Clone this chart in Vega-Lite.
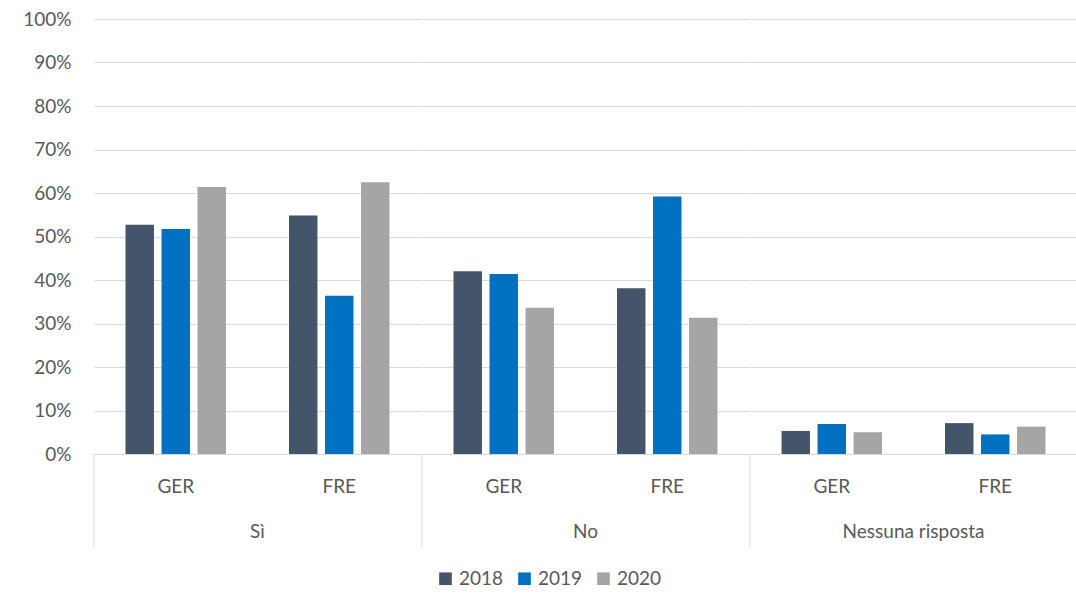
{
  "$schema": "https://vega.github.io/schema/vega-lite/v6.json",
  "padding": {"left": 0, "top": 10, "right": 1, "bottom": 0},
  "background": "white",
  "data": {"values": [
    {"risposta": "Sì", "paese": "GER", "anno": "2018", "valore": 0.527},
    {"risposta": "Sì", "paese": "GER", "anno": "2019", "valore": 0.517},
    {"risposta": "Sì", "paese": "GER", "anno": "2020", "valore": 0.614},
    {"risposta": "Sì", "paese": "FRE", "anno": "2018", "valore": 0.548},
    {"risposta": "Sì", "paese": "FRE", "anno": "2019", "valore": 0.364},
    {"risposta": "Sì", "paese": "FRE", "anno": "2020", "valore": 0.625},
    {"risposta": "No", "paese": "GER", "anno": "2018", "valore": 0.42},
    {"risposta": "No", "paese": "GER", "anno": "2019", "valore": 0.414},
    {"risposta": "No", "paese": "GER", "anno": "2020", "valore": 0.336},
    {"risposta": "No", "paese": "FRE", "anno": "2018", "valore": 0.381},
    {"risposta": "No", "paese": "FRE", "anno": "2019", "valore": 0.592},
    {"risposta": "No", "paese": "FRE", "anno": "2020", "valore": 0.313},
    {"risposta": "Nessuna risposta", "paese": "GER", "anno": "2018", "valore": 0.053},
    {"risposta": "Nessuna risposta", "paese": "GER", "anno": "2019", "valore": 0.069},
    {"risposta": "Nessuna risposta", "paese": "GER", "anno": "2020", "valore": 0.05},
    {"risposta": "Nessuna risposta", "paese": "FRE", "anno": "2018", "valore": 0.071},
    {"risposta": "Nessuna risposta", "paese": "FRE", "anno": "2019", "valore": 0.045},
    {"risposta": "Nessuna risposta", "paese": "FRE", "anno": "2020", "valore": 0.063}
  ]},
  "facet": {
    "column": {
      "field": "risposta", "type": "nominal",
      "sort": ["Sì", "No", "Nessuna risposta"],
      "header": {"title": null, "labelOrient": "bottom", "labelFont": "Lato", "labelFontSize": 19, "labelColor": "#595959", "labelPadding": -25}
    }
  },
  "spacing": 0,
  "resolve": {"scale": {"x": "independent", "xOffset": "independent"}},
  "spec": {
    "width": 327,
    "height": 435,
    "layer": [
      {
        "mark": {"type": "bar"},
        "encoding": {
          "x": {
            "field": "paese", "type": "nominal", "sort": ["GER", "FRE"],
            "scale": {"paddingInner": 0, "paddingOuter": 0},
            "axis": {
              "title": null, "labelAngle": 0, "labelFont": "Lato", "labelFontSize": 19, "labelColor": "#595959",
              "grid": false, "ticks": false,
              "domainColor": "#d9d9d9", "domainWidth": 1,
              "labelPadding": 23
            }
          },
          "xOffset": {
            "field": "anno", "type": "nominal",
            "scale": {"paddingInner": 0.21, "paddingOuter": 0.875}
          },
          "y": {
            "field": "valore", "type": "quantitative",
            "scale": {"domain": [0, 1]},
            "axis": {
              "title": null, "format": ".0%",
              "values": [0, 0.1, 0.2, 0.3, 0.4, 0.5, 0.6, 0.7, 0.8, 0.9, 1],
              "domain": false, "ticks": false, "labelPadding": 22, "grid": true,
              "labelFont": "Lato", "labelFontSize": 19, "labelColor": "#595959",
              "gridColor": "#d9d9d9", "gridWidth": 1,
              "minExtent": 93, "maxExtent": 93
            }
          },
          "color": {
            "field": "anno", "type": "nominal",
            "scale": {"domain": ["2018", "2019", "2020"], "range": ["#44546a", "#0070c0", "#a5a5a5"]},
            "legend": {
              "title": null, "orient": "none", "direction": "horizontal",
              "legendX": 342, "legendY": 550,
              "symbolType": "square", "symbolSize": 160, "symbolStrokeWidth": 0, "symbolOpacity": 1,
              "labelFont": "Lato", "labelFontSize": 19, "labelColor": "#595959",
              "columnPadding": 11, "labelOffset": 4
            }
          }
        }
      },
      {
        "transform": [{"filter": "datum.paese === 'GER' && datum.anno === '2018'"}],
        "mark": {"type": "rule", "color": "#d9d9d9", "strokeWidth": 1, "clip": false},
        "encoding": {
          "x": {"field": "paese", "type": "nominal", "sort": ["GER", "FRE"], "bandPosition": 0},
          "y": {"datum": 0, "type": "quantitative"},
          "y2": {"datum": -0.2138}
        }
      },
      {
        "transform": [{"filter": "datum.risposta === 'Nessuna risposta' && datum.paese === 'FRE' && datum.anno === '2018'"}],
        "mark": {"type": "rule", "color": "#d9d9d9", "strokeWidth": 1, "clip": false},
        "encoding": {
          "x": {"field": "paese", "type": "nominal", "sort": ["GER", "FRE"], "bandPosition": 1},
          "y": {"datum": 0, "type": "quantitative"},
          "y2": {"datum": -0.2138}
        }
      }
    ]
  },
  "config": {
    "view": {"stroke": null}
  }
}
